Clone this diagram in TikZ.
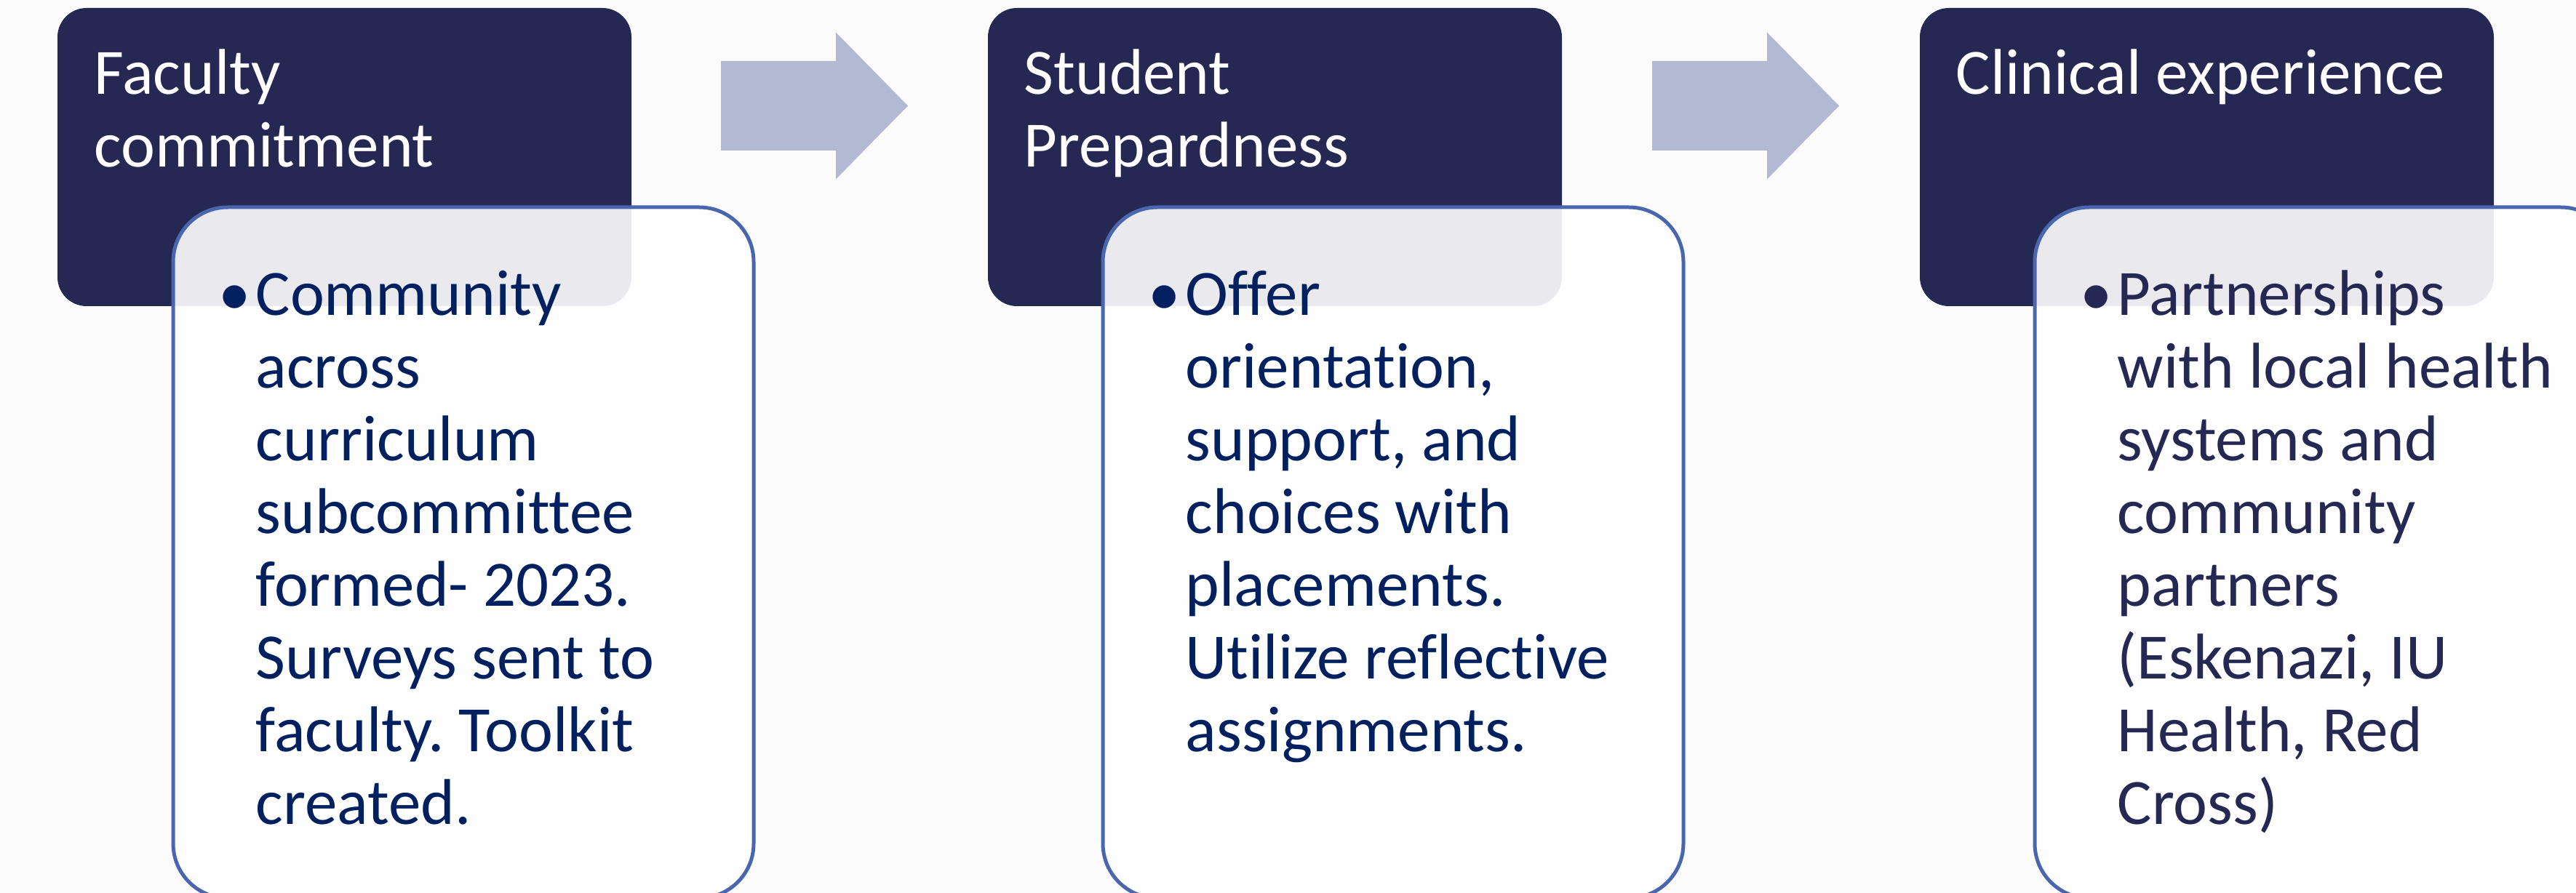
\documentclass[tikz,border=0pt]{standalone}
\usepackage{fontspec}
\setmainfont{Carlito}[Ligatures=NoCommon]
\frenchspacing
\usetikzlibrary{calc,positioning}

\definecolor{pagebg}{HTML}{FCFBFC}
\definecolor{titlenavy}{HTML}{262854}
\definecolor{noteblue}{HTML}{002060}
\definecolor{noteline}{HTML}{4A66AE}
\definecolor{arrowgrey}{HTML}{B2B9D3}

\tikzset{titlebox/.style = {rectangle, fill=titlenavy, rounded corners=0.4cm, anchor=north west,
                            minimum width=7.89cm, minimum height=4.10cm, inner sep=0pt, outer sep=0pt}}
\tikzset{notebox/.style = {rectangle, fill=white, fill opacity=0.9, draw=noteline, line width=0.05cm,
                           rounded corners=0.75cm, minimum width=7.98cm, minimum height=9.50cm,
                           inner sep=0pt, outer sep=0pt}}
\tikzset{titletext/.style = {text=white, align=left, anchor=north west, inner sep=0pt,
                             font=\fontsize{25.3}{28.45}\selectfont}}
\tikzset{notetext/.style = {text=noteblue, align=left, anchor=north west, inner sep=0pt,
                            font=\fontsize{25.3}{28.45}\selectfont}}
\tikzset{flowarrow/.style = {fill=arrowgrey}}

\begin{document}
\begin{tikzpicture}
      \useasboundingbox (0,0) rectangle (35.41,-12.28);
      \fill[pagebg] (0,0) rectangle (35.41,-12.28);
      % title boxes
      \node[titlebox] (faculty) at (0.79,-0.11) {};
      \node[titlebox, right=4.90cm of faculty] (student) {};
      \node[titlebox, right=4.92cm of student] (clinical) {};
      \node[titletext] (facultytitle) at ($(faculty.north west)+(0.50,-0.48)$) {\strut Faculty\\commitment};
      \node[titletext] (studenttitle) at ($(student.north west)+(0.49,-0.48)$) {\strut Student\\Prepardness};
      \node[titletext] (clinicaltitle) at ($(clinical.north west)+(0.49,-0.48)$) {\strut Clinical experience};
      % arrows between the steps
      \fill[flowarrow] ($(faculty.north east)+(1.23,-0.73)$) -- ++(1.58,0) -- ++(0,0.395) -- ++(0.99,-1.01)
            -- ++(-0.99,-1.01) -- ++(0,0.395) -- ++(-1.58,0) -- cycle;
      \fill[flowarrow] ($(student.north east)+(1.24,-0.73)$) -- ++(1.58,0) -- ++(0,0.395) -- ++(0.99,-1.01)
            -- ++(-0.99,-1.01) -- ++(0,0.395) -- ++(-1.58,0) -- cycle;
      % note boxes
      \node[notebox, below right=2.74cm and 1.59cm of faculty.north west] (facultynote) {};
      \node[notebox, below right=2.74cm and 1.58cm of student.north west] (studentnote) {};
      \node[notebox, below right=2.74cm and 1.58cm of clinical.north west] (clinicalnote) {};
      \node[notetext] (facultytext) at ($(facultynote.north west)+(1.13,-0.78)$)
            {\strut\llap{•\hspace{0.07cm}}Community\\across\\curriculum\\subcommittee\\formed- 2023.\\Surveys sent to\\faculty. Toolkit\\created.};
      \node[notetext] (studenttext) at ($(studentnote.north west)+(1.13,-0.78)$)
            {\strut\llap{•\hspace{0.07cm}}Offer\\orientation,\\support, and\\choices with\\placements.\\Utilize reflective\\assignments.};
      \node[notetext, text=titlenavy] (clinicaltext) at ($(clinicalnote.north west)+(1.13,-0.78)$)
            {\strut\llap{•\hspace{0.07cm}}Partnerships\\with local health\\systems and\\community\\partners\\(Eskenazi, IU\\Health, Red\\Cross)};
\end{tikzpicture}
\end{document}
